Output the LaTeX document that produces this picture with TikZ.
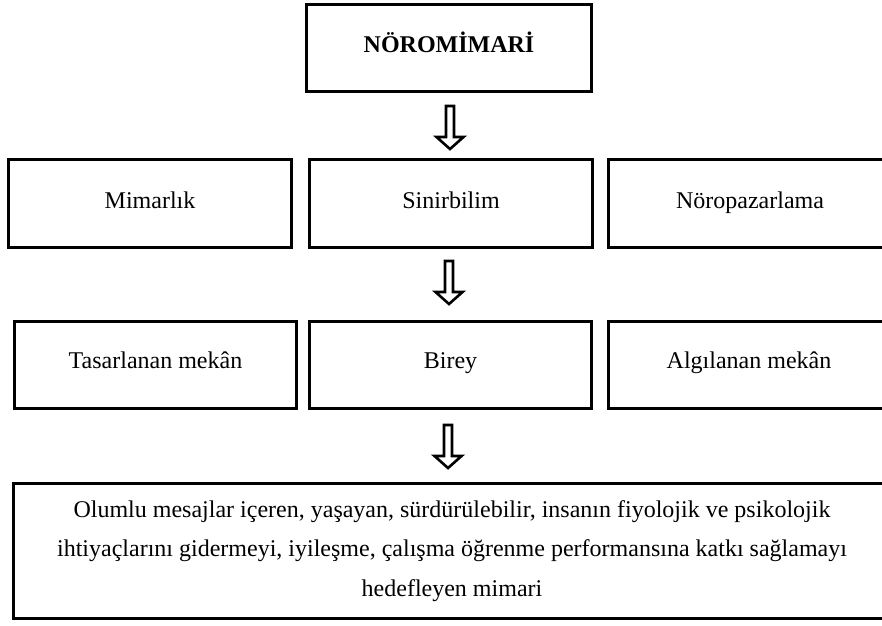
\documentclass[tikz,border=0pt]{standalone}
\usepackage{fontspec}
\setmainfont{Liberation Serif}
\usetikzlibrary{calc}
\newcommand\hollowarr[1]{%
  \draw[hollow] ($(#1)+(-4,0)$) -- ++(8,0) -- ++(0,31) -- ++(9.5,0) -- ++(-13.5,12) -- ++(-13.5,-12) -- ++(9.5,0) -- cycle;}
\begin{document}
\begin{tikzpicture}[x=1pt,y=-1pt,
  box/.style={draw, line width=3pt, minimum width=283pt, minimum height=88pt,
    inner sep=0pt, text height=15pt, text depth=5pt, font=\fontsize{24}{28}\selectfont},
  hollow/.style={draw, fill=white, line width=2.6pt, line join=miter}]
\useasboundingbox (0,0) rectangle (882,625);
% top
\node[box, minimum width=285pt, minimum height=87pt, text height=15pt, text depth=7pt,
  font=\fontsize{24}{28}\selectfont\bfseries] (top) at (449,48) {NÖROMİMARİ};
% row 2
\node[box] (mim) at (150,203.5) {Mimarlık};
\node[box] (sin) at (451,203.5) {Sinirbilim};
\node[box] (nor) at (750,203.5) {Nöropazarlama};
% row 3
\node[box, minimum width=282pt, minimum height=87pt, text height=14pt, text depth=8pt] (tas) at (155.5,365) {Tasarlanan mekân};
\node[box, minimum width=282pt, minimum height=87pt, text height=14pt, text depth=8pt] (bir) at (450.5,365) {Birey};
\node[box, minimum width=281pt, minimum height=87pt, text height=14pt, text depth=8pt] (alg) at (749,365) {Algılanan mekân};
% bottom
\node[draw, line width=3pt, inner sep=0pt, minimum width=877pt, minimum height=135pt, align=center,
  font=\fontsize{24}{39.5}\selectfont] (son) at (452,551)
  {Olumlu mesajlar içeren, yaşayan, sürdürülebilir, insanın fiyolojik ve psikolojik\\
   ihtiyaçlarını gidermeyi, iyileşme, çalışma öğrenme performansına katkı sağlamayı\\
   hedefleyen mimari};
% arrows
\coordinate (a1) at ($(top.south)+(1,13)$);
\coordinate (a2) at ($(sin.south)+(-2,12)$);
\coordinate (a3) at ($(bir.south)+(-2.5,15)$);
\hollowarr{a1}
\hollowarr{a2}
\hollowarr{a3}
\end{tikzpicture}
\end{document}
